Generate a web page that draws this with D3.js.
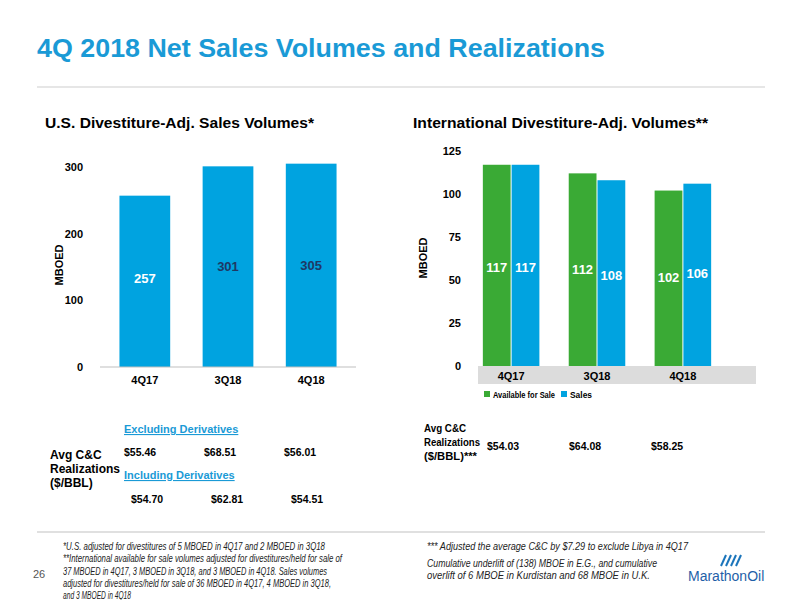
<!DOCTYPE html>
<html><head><meta charset="utf-8">
<script src="https://cdn.jsdelivr.net/npm/d3@7"></script>
<style>body{margin:0;background:#fff}text{font-family:"Liberation Sans",Arial,sans-serif}</style>
</head><body><div id="wrapper"></div>
<script>
const usCats = ["4Q17", "3Q18", "4Q18"];
const usVolumes = [257, 301, 305];
const usTicks = [0, 100, 200, 300];
const intlCats = ["4Q17", "3Q18", "4Q18"];
const intlSeries = ["Available for Sale", "Sales"];
const intlAvail = [117, 112, 102];
const intlSales = [117, 108, 106];
const intlTicks = [0, 25, 50, 75, 100, 125];
const usExclDeriv = ["$55.46", "$68.51", "$56.01"];
const usInclDeriv = ["$54.70", "$62.81", "$54.51"];
const intlRealiz = ["$54.03", "$64.08", "$58.25"];

const blue = "#00a3e0", green = "#3aaa35", titleBlue = "#1a9ad6";
const svg = d3.select("#wrapper").append("svg").attr("width", 800).attr("height", 600);

svg.append("text").attr("x", 37).attr("y", 57).text("4Q 2018 Net Sales Volumes and Realizations")
  .attr("fill", titleBlue).attr("font-size", 26).attr("font-weight", "bold")
  .attr("textLength", 568).attr("lengthAdjust", "spacingAndGlyphs");
svg.append("line").attr("x1", 37).attr("x2", 765).attr("y1", 87).attr("y2", 87).attr("stroke", "#e6e6e6").attr("stroke-width", 2);

svg.append("text").attr("x", 45).attr("y", 128).text("U.S. Divestiture-Adj. Sales Volumes*").attr("font-size", 15).attr("font-weight", "bold")
  .attr("textLength", 269).attr("lengthAdjust", "spacingAndGlyphs");
svg.append("text").attr("x", 413).attr("y", 128).text("International Divestiture-Adj. Volumes**").attr("font-size", 15).attr("font-weight", "bold")
  .attr("textLength", 295).attr("lengthAdjust", "spacingAndGlyphs");

// US chart
function drawUS() {
  const x = d3.scaleBand().domain(usCats).range([92, 364]).paddingInner(0.39).paddingOuter(0.33);
  const y = d3.scaleLinear().domain([0, 300]).range([367, 167]);
  const g = svg.append("g");
  g.selectAll("text.tick").data(usTicks).join("text").attr("x", 83).attr("y", d => y(d) + 4)
    .attr("text-anchor", "end").attr("font-size", 11).attr("font-weight", "bold").text(d => d);
  g.selectAll("rect").data(usVolumes).join("rect").attr("x", (d, i) => x(usCats[i])).attr("width", x.bandwidth())
    .attr("y", d => y(d)).attr("height", d => y(0) - y(d)).attr("fill", blue);
  g.append("line").attr("x1", 100).attr("x2", 356).attr("y1", y(0)).attr("y2", y(0)).attr("stroke", "#bfbfbf");
  g.selectAll("text.cat").data(usCats).join("text").attr("x", d => x(d) + x.bandwidth() / 2).attr("y", 384)
    .attr("text-anchor", "middle").attr("font-size", 11).attr("font-weight", "bold").text(d => d);
  const labY = [283, 271, 270];
  g.selectAll("text.val").data(usVolumes).join("text").attr("x", (d, i) => x(usCats[i]) + x.bandwidth() / 2)
    .attr("y", (d, i) => labY[i]).attr("text-anchor", "middle").attr("font-size", 13).attr("font-weight", "bold")
    .attr("fill", (d, i) => i == 0 ? "#fff" : "#1f3864").text(d => d);
  g.append("text").attr("transform", "translate(63,265) rotate(-90)").attr("text-anchor", "middle")
    .attr("font-size", 11).attr("font-weight", "bold").text("MBOED");
}
drawUS();

// International chart
function drawIntl() {
  const x = d3.scaleBand().domain(intlCats).range([454, 740]).paddingInner(0.33).paddingOuter(0.33);
  const sub = d3.scaleBand().domain(intlSeries).range([0, x.bandwidth()]);
  const y = d3.scaleLinear().domain([0, 125]).range([366, 151]);
  const g = svg.append("g");
  g.selectAll("text.tick").data(intlTicks).join("text").attr("x", 461).attr("y", d => y(d) + 4)
    .attr("text-anchor", "end").attr("font-size", 11).attr("font-weight", "bold").text(d => d);
  g.append("rect").attr("x", 478).attr("y", 366).attr("width", 278).attr("height", 18).attr("fill", "#dcdcdc");
  const data = intlCats.map((c, i) => ({ c, v: [intlAvail[i], intlSales[i]] }));
  const grp = g.selectAll("g.grp").data(data).join("g").attr("transform", d => `translate(${x(d.c)},0)`);
  grp.selectAll("rect").data(d => d.v.map((v, j) => ({ v, s: intlSeries[j] }))).join("rect")
    .attr("x", d => sub(d.s) + 0.5).attr("width", sub.bandwidth() - 1).attr("y", d => y(d.v)).attr("height", d => y(0) - y(d.v))
    .attr("fill", d => d.s == intlSeries[0] ? green : blue);
  const labY = [[272, 272], [274, 280], [282, 278]];
  grp.selectAll("text").data((d, gi) => d.v.map((v, j) => ({ v, s: intlSeries[j], ly: labY[gi][j] }))).join("text")
    .attr("x", d => sub(d.s) + sub.bandwidth() / 2).attr("y", d => d.ly)
    .attr("text-anchor", "middle").attr("font-size", 13).attr("font-weight", "bold").attr("fill", "#fff").text(d => d.v);
  g.selectAll("text.cat").data(intlCats).join("text").attr("x", d => x(d) + x.bandwidth() / 2).attr("y", 380)
    .attr("text-anchor", "middle").attr("font-size", 11).attr("font-weight", "bold").text(d => d);
  const leg = g.selectAll("g.leg").data(intlSeries).join("g").attr("transform", (d, i) => `translate(${484 + i * 77},391)`);
  leg.append("rect").attr("width", 6).attr("height", 6).attr("fill", (d, i) => i == 0 ? green : blue);
  leg.append("text").attr("x", 9).attr("y", 7).attr("font-size", 9).attr("font-weight", "bold")
    .attr("textLength", (d, i) => [62, 22][i]).attr("lengthAdjust", "spacingAndGlyphs").text(d => d);
  g.append("text").attr("transform", "translate(427,258) rotate(-90)").attr("text-anchor", "middle")
    .attr("font-size", 11).attr("font-weight", "bold").text("MBOED");
}
drawIntl();

// Realizations tables
const tbl = svg.append("g").attr("font-size", 11).attr("font-weight", "bold");
tbl.append("text").attr("x", 124).attr("y", 433).attr("fill", titleBlue).attr("text-decoration", "underline").text("Excluding Derivatives");
tbl.append("text").attr("x", 124).attr("y", 479).attr("fill", titleBlue).attr("text-decoration", "underline").text("Including Derivatives");
["Avg C&C", "Realizations", "($/BBL)"].forEach((t, i) => tbl.append("text").attr("x", 50).attr("y", 459 + i * 14).attr("font-size", 12).text(t));
tbl.selectAll("text.ex").data(usExclDeriv).join("text").attr("x", (d, i) => 124 + i * 80).attr("y", 456).attr("font-size", 10.5).text(d => d);
tbl.selectAll("text.in").data(usInclDeriv).join("text").attr("x", (d, i) => 131 + i * 80).attr("y", 503).attr("font-size", 10.5).text(d => d);
["Avg C&C", "Realizations", "($/BBL)***"].forEach((t, i) => tbl.append("text").attr("x", 424).attr("y", 432 + i * 14).attr("font-size", 10)
  .attr("textLength", [42, 56, 53][i]).attr("lengthAdjust", "spacingAndGlyphs").text(t));
tbl.selectAll("text.intl").data(intlRealiz).join("text").attr("x", (d, i) => 487 + i * 82).attr("y", 450).attr("font-size", 10.5).text(d => d);

// footer
svg.append("line").attr("x1", 37).attr("x2", 765).attr("y1", 532).attr("y2", 532).attr("stroke", "#e0e0e0").attr("stroke-width", 2);
svg.append("text").attr("x", 33).attr("y", 578).attr("font-size", 11).attr("fill", "#555").text("26");
const foot = svg.append("g").attr("font-size", 10).attr("font-style", "italic").attr("fill", "#222");
const footL = ["*U.S. adjusted for divestitures of 5 MBOED in 4Q17 and 2 MBOED in 3Q18",
 "**International available for sale volumes adjusted for divestitures/held for sale of",
 "37 MBOED in 4Q17, 3 MBOED in 3Q18, and 3 MBOED in 4Q18. Sales volumes",
 "adjusted for divestitures/held for sale of 36 MBOED in 4Q17, 4 MBOED in 3Q18,",
 "and 3 MBOED in 4Q18"];
const footLW = [262, 279, 264, 268, 68];
footL.forEach((t, i) => foot.append("text").attr("x", 63).attr("y", 550 + i * 12.3)
  .attr("textLength", footLW[i]).attr("lengthAdjust", "spacingAndGlyphs").text(t));
const footR = ["*** Adjusted the average C&C by $7.29 to exclude Libya in 4Q17",
 "Cumulative underlift of (138) MBOE in E.G., and cumulative",
 "overlift of 6 MBOE in Kurdistan and 68 MBOE in U.K."];
const footRY = [550, 567, 579], footRW = [261, 230, 223];
footR.forEach((t, i) => foot.append("text").attr("x", 427).attr("y", footRY[i])
  .attr("textLength", footRW[i]).attr("lengthAdjust", "spacingAndGlyphs").text(t));
// logo
const logo = svg.append("g").attr("fill", "none").attr("stroke", "#1b75bb").attr("stroke-width", 2);
[0, 5, 10, 15].forEach(dx => logo.append("path").attr("d", `M${721 + dx},566 L${726 + dx},555`));
svg.append("text").attr("x", 688).attr("y", 581).attr("font-size", 14).attr("fill", "#1f5fa8").text("MarathonOil");
</script></body></html>
